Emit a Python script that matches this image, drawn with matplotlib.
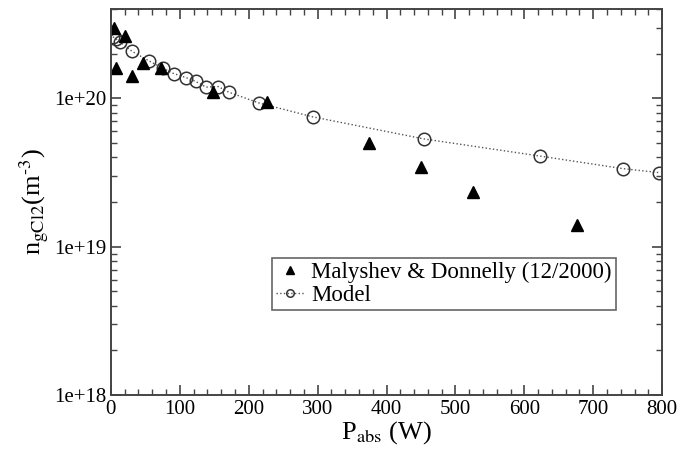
import math
import matplotlib
matplotlib.use("Agg")
import matplotlib.pyplot as plt
from matplotlib.legend_handler import HandlerLine2D
from matplotlib.ticker import FixedLocator, LogLocator, MultipleLocator, FuncFormatter

plt.rcParams['font.family'] = ['Liberation Serif', 'DejaVu Serif']
plt.rcParams['mathtext.fontset'] = 'stix'

# Malyshev & Donnelly measurements
exp_p = [5, 20, 8, 30, 47, 73, 148, 226, 375, 450, 525, 676]
exp_n = [3.0e20, 2.65e20, 1.6e20, 1.41e20, 1.73e20, 1.6e20, 1.11e20, 9.5e19,
         5.0e19, 3.45e19, 2.32e19, 1.4e19]

# model curve
mod_p = [3, 8, 13, 31, 55, 75, 91, 109, 123, 138, 156, 171, 215, 293, 454, 623, 743, 795]
mod_n = [2.6e20, 2.5e20, 2.4e20, 2.07e20, 1.79e20, 1.6e20, 1.47e20, 1.38e20, 1.3e20,
         1.19e20, 1.2e20, 1.1e20, 9.3e19, 7.5e19, 5.33e19, 4.08e19, 3.36e19, 3.16e19]

fig = plt.figure(figsize=(6.89, 4.5), dpi=100)
ax = fig.add_axes([0.161, 0.122, 0.8, 0.858])

mod_line, = ax.plot(mod_p, mod_n, linestyle=':', color='#555555', linewidth=1,
                    marker='o', markersize=9, markerfacecolor='none',
                    markeredgecolor='#333333', markeredgewidth=1.1, label='Model')
exp_line, = ax.plot(exp_p, exp_n, linestyle='none', marker='^', markersize=9,
                    color='black', label='Malyshev & Donnelly (12/2000)')

ax.set_yscale('log')
ax.set_xlim(0, 800)
ax.set_ylim(1e18, 4e20)

ax.xaxis.set_major_locator(MultipleLocator(100))
ax.xaxis.set_minor_locator(MultipleLocator(20))
ax.yaxis.set_major_locator(FixedLocator([1e18, 1e19, 1e20]))
ax.yaxis.set_minor_locator(LogLocator(base=10, subs=range(2, 10)))
ax.yaxis.set_major_formatter(FuncFormatter(lambda v, p: '1e+%d' % round(math.log10(v))))

ax.tick_params(which='both', direction='in', top=True, right=True, labelsize=15,
               color='#444444')
ax.tick_params(which='major', length=7, width=1.2)
ax.tick_params(which='minor', length=4, width=1)
for s in ax.spines.values():
    s.set_color('#444444')
    s.set_linewidth(1.4)

ax.set_xlabel(r'P$_{\mathrm{abs}}$ (W)', fontsize=19, labelpad=0)
ax.set_ylabel(r'n$_{\mathrm{gCl2}}$(m$^{\text{-3}}$)', fontsize=19, labelpad=2)

leg = ax.legend(handles=[exp_line, mod_line], loc='lower left',
                bbox_to_anchor=(0.292, 0.22), fontsize=16.5, frameon=True,
                fancybox=False, edgecolor='#666666', framealpha=1,
                handlelength=1.2, handletextpad=0.3, borderpad=0.2,
                labelspacing=0.05, borderaxespad=0, markerscale=0.6,
                handler_map={exp_line: HandlerLine2D(numpoints=1)})
leg.get_frame().set_linewidth(1.2)

fig.savefig('out.png', dpi=100)
